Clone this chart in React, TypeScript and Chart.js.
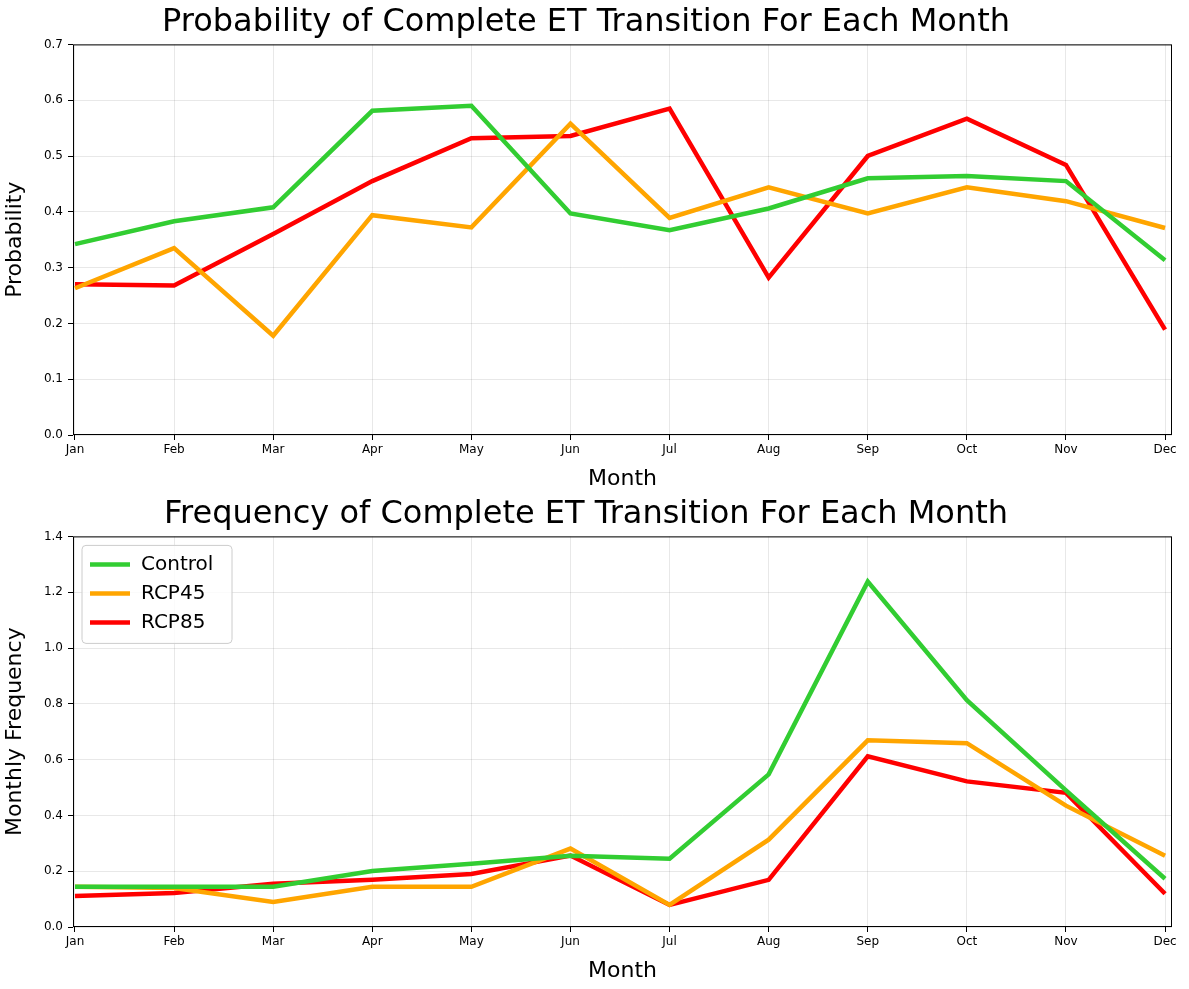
import { useEffect, useRef } from "react";
import { Chart, registerables } from "chart.js";

Chart.register(...registerables);

const months = ["Jan", "Feb", "Mar", "Apr", "May", "Jun", "Jul", "Aug", "Sep", "Oct", "Nov", "Dec"];

const probControl = [0.342, 0.383, 0.408, 0.581, 0.59, 0.397, 0.367, 0.406, 0.46, 0.464, 0.455, 0.313];
const probRcp45 = [0.263, 0.335, 0.178, 0.394, 0.372, 0.558, 0.389, 0.444, 0.397, 0.444, 0.419, 0.371];
const probRcp85 = [0.27, 0.268, 0.36, 0.455, 0.532, 0.536, 0.585, 0.282, 0.5, 0.567, 0.484, 0.189];

const freqControl = [0.144, 0.144, 0.144, 0.201, 0.227, 0.255, 0.245, 0.547, 1.238, 0.813, 0.49, 0.173];
const freqRcp45 = [0.144, 0.14, 0.09, 0.144, 0.144, 0.281, 0.079, 0.313, 0.669, 0.659, 0.435, 0.255];
const freqRcp85 = [0.111, 0.122, 0.155, 0.169, 0.19, 0.256, 0.079, 0.169, 0.612, 0.522, 0.481, 0.119];

const GREEN = "#32cd32";
const ORANGE = "#ffa500";
const RED = "#ff0000";
const FONT = "DejaVu Sans";

const frame = {
  id: "frame",
  afterDraw(chart: any) {
    const { ctx, chartArea: a } = chart;
    ctx.save();
    ctx.strokeStyle = "#000";
    ctx.lineWidth = 1;
    ctx.strokeRect(a.left + 0.5, a.top + 0.5, a.right - a.left - 1, a.bottom - a.top - 1);
    ctx.restore();
  },
};

const innerLegend = {
  id: "innerLegend",
  afterDraw(chart: any) {
    if (!chart.options.plugins.innerLegend?.show) return;
    const { ctx, chartArea: a } = chart;
    const x = a.left + 9, y = a.top + 9;
    ctx.save();
    ctx.fillStyle = "rgba(255,255,255,0.8)";
    ctx.strokeStyle = "#ccc";
    ctx.lineWidth = 1;
    ctx.beginPath();
    ctx.roundRect(x, y, 150, 98, 4);
    ctx.fill();
    ctx.stroke();
    ctx.font = `20px ${FONT}`;
    ctx.textBaseline = "middle";
    chart.data.datasets.forEach((d: any, i: number) => {
      const yy = y + 19 + i * 29;
      ctx.strokeStyle = d.borderColor;
      ctx.lineWidth = 4.5;
      ctx.beginPath();
      ctx.moveTo(x + 8, yy);
      ctx.lineTo(x + 48, yy);
      ctx.stroke();
      ctx.fillStyle = "#000";
      ctx.fillText(d.label, x + 59, yy);
    });
    ctx.restore();
  },
};

function LineChart({ title, yLabel, yMax, step, series, legend }: any) {
  const ref = useRef<HTMLCanvasElement>(null);
  useEffect(() => {
    const chart = new Chart(ref.current!, {
      type: "line",
      data: {
        datasets: series.map((s: any) => ({
          label: s.label,
          data: s.data.map((v: number, i: number) => ({ x: i, y: v })),
          borderColor: s.color,
          borderWidth: 4.5,
          pointRadius: 0,
          tension: 0,
        })),
      },
      plugins: [frame, innerLegend],
      options: {
        responsive: false,
        animation: false,
        layout: { padding: { left: 0, right: 17, top: 0, bottom: 0 } },
        plugins: {
          legend: { display: false },
          tooltip: { enabled: false },
          title: {
            display: true,
            text: title,
            color: "#000",
            font: { family: FONT, size: 32, weight: "normal" },
            padding: { top: 3, bottom: 3 },
          },
          innerLegend: { show: legend },
        } as any,
        scales: {
          x: {
            type: "linear",
            min: -0.02,
            max: 11.07,
            afterBuildTicks: (s: any) => {
              s.ticks = months.map((_, i) => ({ value: i }));
            },
            ticks: {
              callback: (v: any) => months[v] ?? "",
              color: "#000",
              font: { family: FONT, size: 12 },
              maxRotation: 0,
              autoSkip: false,
            },
            grid: { color: "rgba(0,0,0,0.09)", tickColor: "#000", tickLength: 5 },
            border: { display: false },
            title: { display: true, text: "Month", color: "#000", font: { family: FONT, size: 22 }, padding: { top: -4, bottom: 0 } },
            afterFit: (s: any) => { s.height = 57; },
          },
          y: {
            min: 0,
            max: yMax,
            ticks: {
              stepSize: step,
              color: "#000",
              font: { family: FONT, size: 12 },
              padding: 5,
              callback: (v: any) => Number(v).toFixed(1),
            },
            grid: { color: "rgba(0,0,0,0.09)", tickColor: "#000", tickLength: 5 },
            border: { display: false },
            title: { display: true, text: yLabel, color: "#000", font: { family: FONT, size: 22 }, padding: 2 },
            afterFit: (s: any) => { s.width = 73; },
          },
        },
      },
    });
    return () => chart.destroy();
  }, []);
  return <canvas ref={ref} width={1189} height={492} style={{ display: "block" }} />;
}

export default function App() {
  return (
    <div style={{ position: "fixed", left: 0, top: 0, width: 1189, height: 989, background: "#fff" }}>
      <LineChart
        title="Probability of Complete ET Transition For Each Month"
        yLabel="Probability"
        yMax={0.7}
        step={0.1}
        legend={false}
        series={[
          { label: "Control", data: probControl, color: GREEN },
          { label: "RCP45", data: probRcp45, color: ORANGE },
          { label: "RCP85", data: probRcp85, color: RED },
        ]}
      />
      <LineChart
        title="Frequency of Complete ET Transition For Each Month"
        yLabel="Monthly Frequency"
        yMax={1.4}
        step={0.2}
        legend={true}
        series={[
          { label: "Control", data: freqControl, color: GREEN },
          { label: "RCP45", data: freqRcp45, color: ORANGE },
          { label: "RCP85", data: freqRcp85, color: RED },
        ]}
      />
    </div>
  );
}
